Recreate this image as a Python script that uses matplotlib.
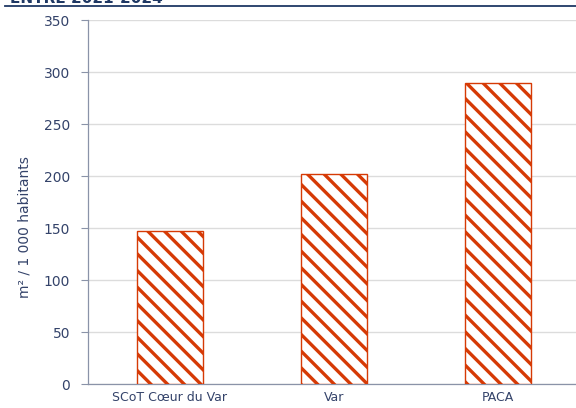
import matplotlib
matplotlib.use("Agg")
import matplotlib.pyplot as plt
from matplotlib.lines import Line2D

categories = ["SCoT Cœur du Var", "Var", "PACA"]
values = [147, 202, 289]
yticks = [0, 50, 100, 150, 200, 250, 300, 350]

W, H, DPI = 576, 408, 100
plt.rcParams['font.family'] = ['DejaVu Sans']
plt.rcParams['hatch.linewidth'] = 2.4
plt.rcParams['hatch.color'] = '#D63A05'

txt = '#34436A'
fig = plt.figure(figsize=(W / DPI, H / DPI), dpi=DPI)
ax = fig.add_axes([88 / W, 1 - 384 / H, 492 / W, 364 / H])

x = list(range(len(categories)))
ax.bar(x, values, width=0.4, facecolor='white', edgecolor='#D63A05',
       hatch='\\\\', linewidth=1.0, zorder=3)

ax.set_xlim(-0.5, len(categories) - 0.5)
ax.set_ylim(0, 350)
ax.set_yticks(yticks)
ax.set_xticks(x)
ax.set_xticklabels(categories, fontsize=9, color=txt)
ax.tick_params(axis='x', length=0, pad=5)
ax.tick_params(axis='y', length=5, width=0.8, color='#8A93A8', labelsize=10,
               labelcolor=txt, pad=8)
ax.grid(axis='y', color='#DCDCDC', linewidth=1.0, zorder=0)
ax.set_axisbelow(True)
for s in ['top', 'right']:
    ax.spines[s].set_visible(False)
ax.spines['left'].set_color('#8A93A8')
ax.spines['bottom'].set_color('#8A93A8')
ax.spines['left'].set_linewidth(0.9)
ax.spines['bottom'].set_linewidth(0.9)

ax.set_ylabel("m² / 1 000 habitants", fontsize=10, color=txt)
ax.yaxis.set_label_coords((32 - 88) / 492, 0.43)

fig.text(10 / W, 1 - 3 / H, "ENTRE 2021-2024", fontsize=11, fontweight='bold',
         color='#1F3864', ha='left', va='baseline')
fig.add_artist(Line2D([5 / W, 1.0], [1 - 6 / H, 1 - 6 / H], color='#1F3864',
                      linewidth=1.3, transform=fig.transFigure))

fig.savefig("out.png", dpi=DPI)
